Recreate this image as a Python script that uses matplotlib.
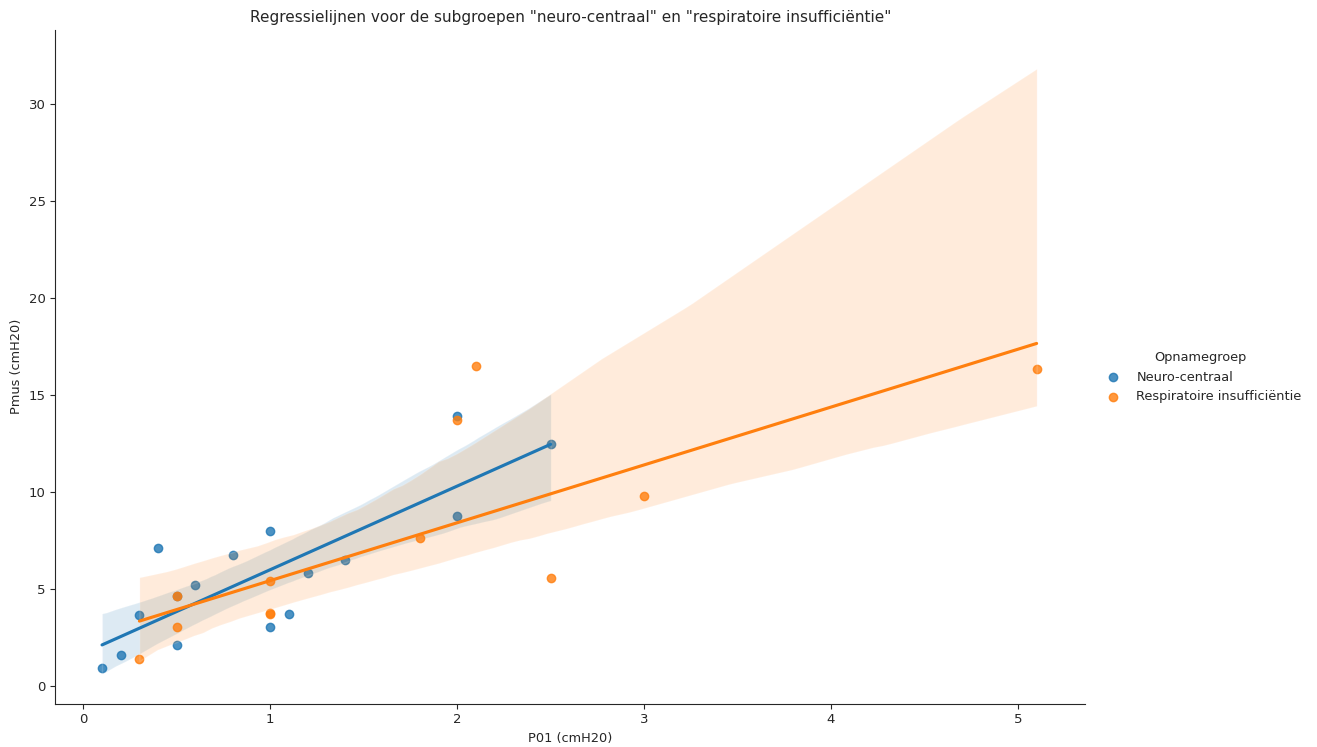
import matplotlib
matplotlib.use("Agg")
import matplotlib.pyplot as plt
import seaborn as sns
import pandas as pd

# Neuro-centraal
neuro_p01 = [0.1, 0.2, 0.3, 0.4, 0.5, 0.5, 0.6, 0.8, 1.0, 1.0, 1.1, 1.2, 1.4, 2.0, 2.0, 2.5]
neuro_pmus = [0.9, 1.6, 3.65, 7.1, 4.6, 2.1, 5.2, 6.75, 7.95, 3.0, 3.7, 5.8, 6.45, 13.9, 8.75, 12.45]

# Respiratoire insufficientie
resp_p01 = [0.3, 0.5, 0.5, 1.0, 1.0, 1.0, 1.8, 2.0, 2.1, 2.5, 3.0, 5.1]
resp_pmus = [1.35, 4.6, 3.0, 5.4, 3.7, 3.75, 7.6, 13.7, 16.5, 5.55, 9.75, 16.3]

groups = ["Neuro-centraal", "Respiratoire insufficiëntie"]

df = pd.DataFrame({
    "P01 (cmH20)": neuro_p01 + resp_p01,
    "Pmus (cmH20)": neuro_pmus + resp_pmus,
    "Opnamegroep": [groups[0]] * len(neuro_p01) + [groups[1]] * len(resp_p01),
})

sns.set_style("ticks")
fig, ax = plt.subplots(figsize=(13.17, 7.47), dpi=100)
fig.subplots_adjust(left=0.042, right=0.824, top=0.96, bottom=0.058)

colors = ["#1f77b4", "#ff7f0e"]
for g, c in zip(groups, colors):
    sub = df[df["Opnamegroep"] == g]
    sns.regplot(data=sub, x="P01 (cmH20)", y="Pmus (cmH20)", ax=ax, color=c,
                label=g, seed=3, truncate=True)

sns.despine(ax=ax)
ax.set_xlim(-0.15, 5.36)
ax.set_ylim(-0.93, 33.8)
ax.set_title('Regressielijnen voor de subgroepen "neuro-centraal" en "respiratoire insufficiëntie"',
             fontsize=11)
ax.set_xlabel("P01 (cmH20)", fontsize=9.3)
ax.set_ylabel("Pmus (cmH20)", fontsize=9.3)
ax.tick_params(labelsize=9.5)

handles, labels = ax.get_legend_handles_labels()
leg = fig.legend(handles[:2], labels[:2], title="Opnamegroep", frameon=False,
                 loc="center left", bbox_to_anchor=(0.8265, 0.495), fontsize=9.3,
                 title_fontsize=9.3)

plt.savefig("out.png")
